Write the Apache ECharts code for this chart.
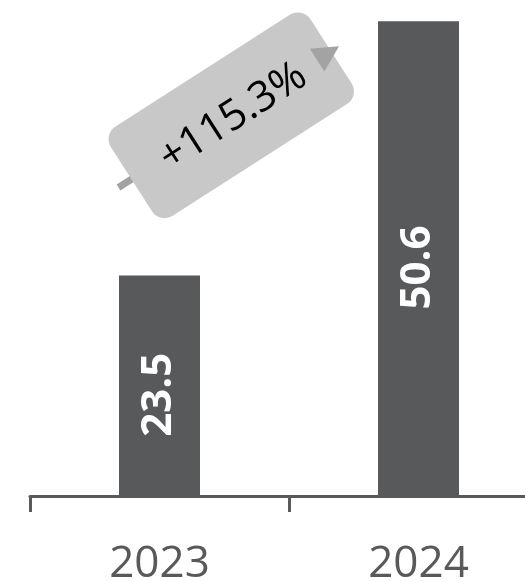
<!DOCTYPE html>
<html>
<head>
<meta charset="utf-8">
<script src="https://cdn.jsdelivr.net/npm/echarts@6/dist/echarts.min.js"></script>
<style>
  html, body { margin: 0; padding: 0; background: #ffffff; }
  #chart { width: 525px; height: 581px; }
</style>
</head>
<body>
<div id="chart"></div>
<script>
// Yearly totals
const years = ['2023', '2024'];
const totals = [23.5, 50.6];

const FONT = '"Open Sans", "Noto Sans", sans-serif';
const BAR_COLOR = '#58595b';
const AXIS_COLOR = '#595959';

const chart = echarts.init(document.getElementById('chart'), null, { renderer: 'canvas' });

chart.setOption({
  animation: false,
  backgroundColor: '#ffffff',
  grid: {
    left: 30, width: 518, top: 8, bottom: 85,
    containLabel: false,
    outerBoundsMode: 'none'
  },
  xAxis: {
    type: 'category',
    data: years,
    axisLine: { show: true, lineStyle: { color: AXIS_COLOR, width: 3 } },
    axisTick: { show: true, length: 16, lineStyle: { color: AXIS_COLOR, width: 3 } },
    axisLabel: { color: AXIS_COLOR, fontSize: 44, fontFamily: FONT, margin: 46 },
    splitLine: { show: false }
  },
  yAxis: {
    type: 'value',
    min: 0,
    max: 52,
    show: false
  },
  series: [{
    type: 'bar',
    data: totals,
    barWidth: 81,
    itemStyle: { color: BAR_COLOR },
    label: {
      show: true,
      position: 'inside',
      rotate: 90,
      offset: [-9, 0],
      color: '#ffffff',
      fontSize: 42,
      fontWeight: 'bold',
      fontFamily: FONT,
      formatter: '{c}'
    }
  }]
});

// Growth callout between the two bars, placed relative to the bar tops
function drawCallout() {
  const a = chart.convertToPixel({ gridIndex: 0 }, [0, totals[0]]);
  const b = chart.convertToPixel({ gridIndex: 0 }, [1, totals[1]]);
  const growth = (totals[1] / totals[0] - 1) * 100;
  const growthText = '+' + growth.toFixed(1) + '%';

  const tail = [a[0] - 41, a[1] - 88];
  const tip = [b[0] - 79.5, b[1] + 25];
  const dx = tip[0] - tail[0];
  const dy = tip[1] - tail[1];
  const len = Math.sqrt(dx * dx + dy * dy);
  const u = [dx / len, dy / len];
  const n = [-u[1], u[0]];
  const angle = Math.atan2(-dy, dx);

  const headLen = 26;
  const headHalf = 13.5;
  const base = [tip[0] - headLen * u[0], tip[1] - headLen * u[1]];

  const cx = (tail[0] + tip[0]) / 2 + 2.5;
  const cy = (tail[1] + tip[1]) / 2 - 1.5;
  const W = 237, H = 106;

  chart.setOption({
    graphic: {
      elements: [
        {
          type: 'line',
          z: 10,
          shape: { x1: tail[0], y1: tail[1], x2: base[0], y2: base[1] },
          style: { stroke: '#a3a3a3', lineWidth: 7 }
        },
        {
          type: 'rect',
          z: 11,
          x: cx, y: cy,
          rotation: angle,
          shape: { x: -W / 2, y: -H / 2, width: W, height: H, r: 15 },
          style: { fill: '#c8c8c8' }
        },
        {
          type: 'polygon',
          z: 12,
          shape: {
            points: [
              tip,
              [base[0] + headHalf * n[0], base[1] + headHalf * n[1]],
              [base[0] - headHalf * n[0], base[1] - headHalf * n[1]]
            ]
          },
          style: { fill: '#a3a3a3' }
        },
        {
          type: 'text',
          z: 13,
          x: cx + 2, y: cy + 2,
          rotation: angle,
          style: {
            text: growthText,
            fill: '#000000',
            fontSize: 42,
            fontFamily: FONT,
            align: 'center',
            verticalAlign: 'middle'
          }
        }
      ]
    }
  });
}

drawCallout();
</script>
</body>
</html>
